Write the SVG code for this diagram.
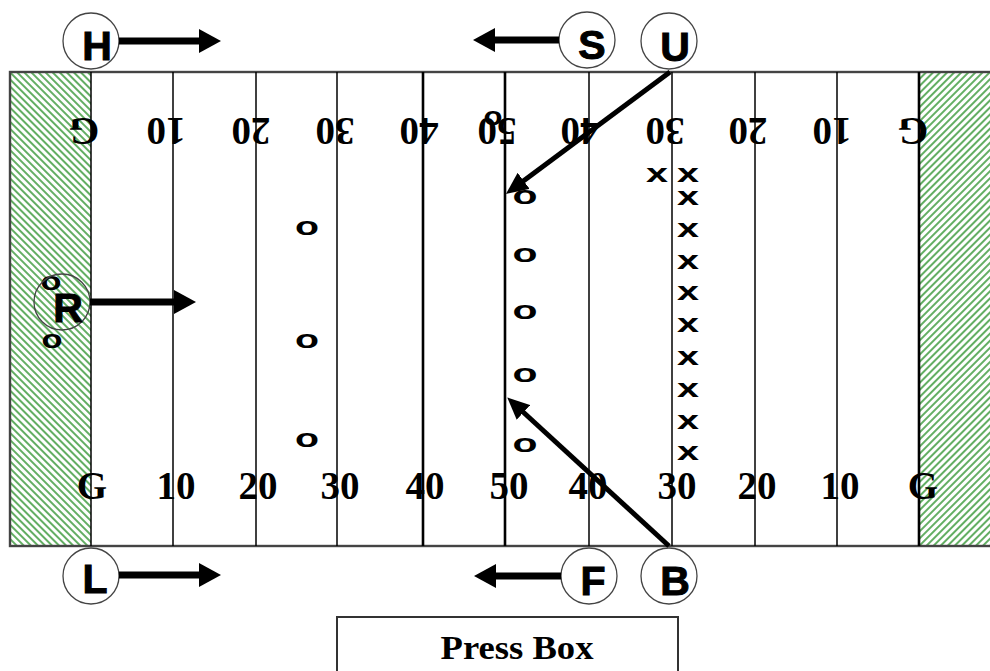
<svg xmlns="http://www.w3.org/2000/svg" width="990" height="671" viewBox="0 0 990 671">
  <style>
    .yard { stroke: #000; stroke-width: 1.5; }
    .yard.thick { stroke-width: 2.6; }
    .num { font-family: "Liberation Serif", "Times New Roman", serif; font-weight: bold; font-size: 39px; fill: #000; text-anchor: middle; }
    .mark { font-family: "Liberation Sans", Arial, sans-serif; font-weight: bold; font-size: 26px; fill: #000; text-anchor: middle; }
    .ring { fill: #fff; stroke: #444; stroke-width: 1.3; }
    .ring.open { fill: none; }
    .letter { font-family: "Liberation Sans", Arial, sans-serif; font-weight: bold; font-size: 41px; fill: #000; stroke: #000; stroke-width: 1; text-anchor: middle; }
    .run { stroke: #000; stroke-width: 7; fill: none; }
    .run.diag { stroke-width: 5; }
  </style>
  <defs>
    <pattern id="hatchLeft" width="5" height="5" patternUnits="userSpaceOnUse" patternTransform="rotate(-45)">
      <rect width="5" height="5" fill="#fff"/>
      <line x1="1" y1="0" x2="1" y2="5" stroke="#3c9a3c" stroke-width="1.6"/>
    </pattern>
    <pattern id="hatchRight" width="5" height="5" patternUnits="userSpaceOnUse" patternTransform="rotate(45)">
      <rect width="5" height="5" fill="#fff"/>
      <line x1="1" y1="0" x2="1" y2="5" stroke="#3c9a3c" stroke-width="1.6"/>
    </pattern>
    <marker id="head" viewBox="0 0 22 24" refX="2" refY="12" markerWidth="22" markerHeight="24" markerUnits="userSpaceOnUse" orient="auto">
      <path d="M0,0 L22,12 L0,24 Z" fill="#000"/>
    </marker>
    <marker id="headDiag" viewBox="0 0 22 20" refX="2" refY="10" markerWidth="22" markerHeight="20" markerUnits="userSpaceOnUse" orient="auto">
      <path d="M0,0 L22,10 L0,20 Z" fill="#000"/>
    </marker>
  </defs>

  <rect width="990" height="671" fill="#fff"/>

  <!-- playing field -->
  <g id="field">
    <rect x="10" y="72" width="81" height="474" fill="url(#hatchLeft)"/>
    <rect x="919" y="72" width="75" height="474" fill="url(#hatchRight)"/>
    <rect x="10" y="72" width="990" height="474" fill="none" stroke="#444" stroke-width="2.4"/>
    <line class="yard" x1="91" y1="72" x2="91" y2="546"/>
    <line class="yard" x1="173" y1="72" x2="173" y2="546"/>
    <line class="yard" x1="256" y1="72" x2="256" y2="546"/>
    <line class="yard" x1="337" y1="72" x2="337" y2="546"/>
    <line class="yard thick" x1="423" y1="72" x2="423" y2="546"/>
    <line class="yard thick" x1="505" y1="72" x2="505" y2="546"/>
    <line class="yard" x1="589" y1="72" x2="589" y2="546"/>
    <line class="yard" x1="672" y1="72" x2="672" y2="546"/>
    <line class="yard" x1="755" y1="72" x2="755" y2="546"/>
    <line class="yard" x1="837" y1="72" x2="837" y2="546"/>
    <line class="yard thick" x1="919" y1="72" x2="919" y2="546"/>
  </g>

  <!-- yard numbers, far side (upside down) -->
  <g id="numbers-top">
    <text class="num" x="84" y="144" transform="rotate(180 84 131)">G</text>
    <text class="num" x="166" y="144" transform="rotate(180 166 131)">10</text>
    <text class="num" x="251" y="144" transform="rotate(180 251 131)">20</text>
    <text class="num" x="335" y="144" transform="rotate(180 335 131)">30</text>
    <text class="num" x="419" y="144" transform="rotate(180 419 131)">40</text>
    <text class="num" x="497" y="144" transform="rotate(180 497 131)">50</text>
    <text class="num" x="580" y="144" transform="rotate(180 580 131)">40</text>
    <text class="num" x="665" y="144" transform="rotate(180 665 131)">30</text>
    <text class="num" x="748" y="144" transform="rotate(180 748 131)">20</text>
    <text class="num" x="832" y="144" transform="rotate(180 832 131)">10</text>
    <text class="num" x="913" y="144" transform="rotate(180 913 131)">G</text>
  </g>

  <!-- yard numbers, near side -->
  <g id="numbers-bottom">
    <text class="num" x="92" y="499">G</text>
    <text class="num" x="176" y="499">10</text>
    <text class="num" x="258" y="499">20</text>
    <text class="num" x="340" y="499">30</text>
    <text class="num" x="425" y="499">40</text>
    <text class="num" x="509" y="499">50</text>
    <text class="num" x="588" y="499">40</text>
    <text class="num" x="677" y="499">30</text>
    <text class="num" x="757" y="499">20</text>
    <text class="num" x="840" y="499">10</text>
    <text class="num" x="923" y="499">G</text>
  </g>

  <!-- receiving team -->
  <g id="receivers">
    <text class="mark" x="493" y="125" textLength="19" lengthAdjust="spacingAndGlyphs">o</text>
    <text class="mark" x="525" y="204" textLength="25" lengthAdjust="spacingAndGlyphs">o</text>
    <text class="mark" x="525" y="262" textLength="25" lengthAdjust="spacingAndGlyphs">o</text>
    <text class="mark" x="525" y="319" textLength="25" lengthAdjust="spacingAndGlyphs">o</text>
    <text class="mark" x="525" y="382" textLength="25" lengthAdjust="spacingAndGlyphs">o</text>
    <text class="mark" x="525" y="452" textLength="25" lengthAdjust="spacingAndGlyphs">o</text>
    <text class="mark" x="307" y="235" textLength="24" lengthAdjust="spacingAndGlyphs">o</text>
    <text class="mark" x="307" y="348" textLength="24" lengthAdjust="spacingAndGlyphs">o</text>
    <text class="mark" x="307" y="447" textLength="24" lengthAdjust="spacingAndGlyphs">o</text>
    <text class="mark" x="51" y="290" textLength="21" lengthAdjust="spacingAndGlyphs">o</text>
    <text class="mark" x="52" y="348" textLength="21" lengthAdjust="spacingAndGlyphs">o</text>
  </g>

  <!-- kicking team -->
  <g id="kickers">
    <text class="mark" x="657" y="182" textLength="22" lengthAdjust="spacingAndGlyphs">x</text>
    <text class="mark" x="688" y="182" textLength="22" lengthAdjust="spacingAndGlyphs">x</text>
    <text class="mark" x="688" y="205" textLength="22" lengthAdjust="spacingAndGlyphs">x</text>
    <text class="mark" x="688" y="237" textLength="22" lengthAdjust="spacingAndGlyphs">x</text>
    <text class="mark" x="688" y="269" textLength="22" lengthAdjust="spacingAndGlyphs">x</text>
    <text class="mark" x="688" y="300" textLength="22" lengthAdjust="spacingAndGlyphs">x</text>
    <text class="mark" x="688" y="332" textLength="22" lengthAdjust="spacingAndGlyphs">x</text>
    <text class="mark" x="688" y="365" textLength="22" lengthAdjust="spacingAndGlyphs">x</text>
    <text class="mark" x="688" y="397" textLength="22" lengthAdjust="spacingAndGlyphs">x</text>
    <text class="mark" x="688" y="429" textLength="22" lengthAdjust="spacingAndGlyphs">x</text>
    <text class="mark" x="688" y="460" textLength="22" lengthAdjust="spacingAndGlyphs">x</text>
  </g>

  <!-- officials -->
  <g id="official-H">
    <circle class="ring" cx="91" cy="41" r="28"/>
    <text class="letter" x="97" y="60">H</text>
  </g>
  <g id="official-S">
    <circle class="ring" cx="587" cy="40" r="28"/>
    <text class="letter" x="592" y="59">S</text>
  </g>
  <g id="official-U">
    <circle class="ring" cx="669" cy="41" r="28"/>
    <text class="letter" x="675" y="61">U</text>
  </g>
  <g id="official-R">
    <circle class="ring open" cx="62" cy="302" r="28"/>
    <text class="letter" x="68" y="322">R</text>
  </g>
  <g id="official-L">
    <circle class="ring" cx="91" cy="576" r="28"/>
    <text class="letter" x="95" y="593">L</text>
  </g>
  <g id="official-F">
    <circle class="ring" cx="589" cy="576" r="28"/>
    <text class="letter" x="593" y="595">F</text>
  </g>
  <g id="official-B">
    <circle class="ring" cx="669" cy="576" r="28"/>
    <text class="letter" x="675" y="595">B</text>
  </g>

  <!-- movement arrows -->
  <g id="connectors">
    <line class="run" x1="119" y1="41" x2="201" y2="41" marker-end="url(#head)"/>
    <line class="run" x1="559" y1="40" x2="493" y2="40" marker-end="url(#head)"/>
    <line class="run" x1="90" y1="302" x2="176" y2="302" marker-end="url(#head)"/>
    <line class="run" x1="119" y1="575" x2="201" y2="575" marker-end="url(#head)"/>
    <line class="run" x1="561" y1="576" x2="494" y2="576" marker-end="url(#head)"/>
    <line class="run diag" x1="670" y1="72" x2="522" y2="182" marker-end="url(#headDiag)"/>
    <line class="run diag" x1="669" y1="546" x2="522" y2="411" marker-end="url(#headDiag)"/>
  </g>

  <!-- press box -->
  <g id="press-box">
    <rect x="337" y="617" width="341" height="64" fill="#fff" stroke="#333" stroke-width="2"/>
    <text x="517" y="659" font-family="'Liberation Serif', 'Times New Roman', serif" font-weight="bold" font-size="34" text-anchor="middle" textLength="153" lengthAdjust="spacingAndGlyphs">Press Box</text>
  </g>
</svg>
